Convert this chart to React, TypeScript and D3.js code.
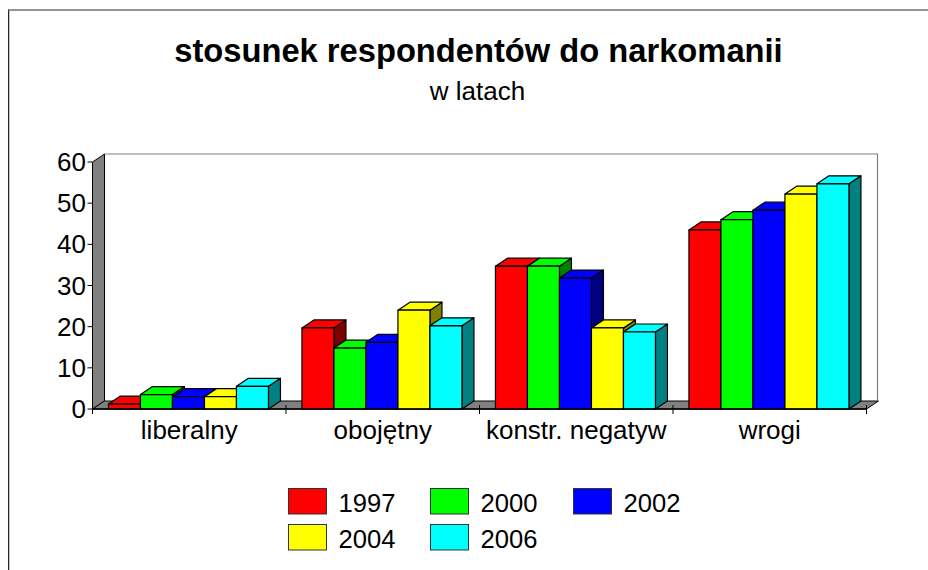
import React from 'react';
import * as d3 from 'd3';

const categories = ['liberalny', 'obojętny', 'konstr. negatyw', 'wrogi'];
const years = ['1997', '2000', '2002', '2004', '2006'];
const colors = ['#ff0000', '#00ff00', '#0000ff', '#ffff00', '#00ffff'];
const sideColors = ['#800000', '#008000', '#000080', '#808000', '#008080'];
const s1997 = [1.2, 19.7, 34.7, 43.5];
const s2000 = [3.5, 14.8, 34.7, 46];
const s2002 = [3, 16.2, 31.8, 48.3];
const s2004 = [3, 24, 19.7, 52.2];
const s2006 = [5.5, 20.2, 18.7, 54.7];
const series = [s1997, s2000, s2002, s2004, s2006];
const yTicks = [0, 10, 20, 30, 40, 50, 60];

const FONT = 'Arial, "Liberation Sans", sans-serif';
const x0 = 92.5, x1 = 866.5, dx = 12, dy = -8;
const y = d3.scaleLinear().domain([0, 60]).range([409, 162]);
const xBand = d3.scaleBand<string>().domain(categories).range([x0, x1]);
const barW = 32;
const inner = d3.scaleBand<string>().domain(years).range([0, barW * years.length]);
const pts = (a: number[][]) => a.map(p => p.join(',')).join(' ');

const legend = [
  { i: 0, x: 288.5, y: 488.5 }, { i: 1, x: 430.5, y: 488.5 }, { i: 2, x: 573.5, y: 488.5 },
  { i: 3, x: 288.5, y: 524.5 }, { i: 4, x: 430.5, y: 524.5 },
];

export default function App() {
  const y0 = y(0), yTop = y(60);
  return (
    <svg width={928} height={570} style={{ position: 'absolute', left: 0, top: 0 }}>
      <rect width={928} height={570} fill="#fff" />
      <path d="M9.5,10V570" stroke="#ccc" fill="none" />
      <path d="M8.5,9V570" stroke="#222" fill="none" />
      <path d="M8,10H928" stroke="#707070" strokeWidth={1.5} fill="none" />
      <text x={478.5} y={62} textAnchor="middle" fontFamily={FONT} fontSize={32.7} fontWeight="bold">stosunek respondentów do narkomanii</text>
      <text x={477.5} y={100} textAnchor="middle" fontFamily={FONT} fontSize={26}>w latach</text>

      <polygon points={pts([[x0, y0], [x0 + dx, y0 + dy], [x0 + dx, yTop + dy], [x0, yTop]])} fill="#808080" stroke="#000" />
      <polygon points={pts([[x0, y0], [x1, y0], [x1 + dx, y0 + dy], [x0 + dx, y0 + dy]])} fill="#808080" stroke="#000" />
      <path d={`M${x0 + dx},${yTop + dy}H${x1 + dx - 1}V${y0 + dy}`} fill="none" stroke="#808080" strokeWidth={1.2} />

      {categories.map((c, ci) => {
        const gx = xBand(c)! + (xBand.bandwidth() - barW * years.length) / 2 - 0.8;
        return (
          <g key={c}>
            {years.map((yr, si) => {
              const l = gx + inner(yr)!, r = l + barW, t = y(series[si][ci]);
              return (
                <g key={yr} stroke="#000" strokeWidth={1.2} strokeLinejoin="round">
                  <polygon points={pts([[r, y0], [r + dx, y0 + dy], [r + dx, t + dy], [r, t]])} fill={sideColors[si]} />
                  <polygon points={pts([[l, t], [l + dx, t + dy], [r + dx, t + dy], [r, t]])} fill={colors[si]} />
                  <rect x={l} y={t} width={barW} height={y0 - t} fill={colors[si]} />
                </g>
              );
            })}
          </g>
        );
      })}

      <path d={`M${x0},${y0}H${x1}`} stroke="#000" strokeWidth={1.5} />
      {[...categories.map(c => xBand(c)!), x1].map((tx, i) => (
        <path key={i} d={`M${tx},${y0 - 4}V${y0 + 5}`} stroke="#000" />
      ))}
      {yTicks.map(t => (
        <g key={t}>
          <path d={`M${x0 - 5},${y(t)}H${x0}`} stroke="#000" />
          <text x={86} y={y(t) + 9} textAnchor="end" fontFamily={FONT} fontSize={26}>{t}</text>
        </g>
      ))}
      {categories.map(c => (
        <text key={c} x={xBand(c)! + xBand.bandwidth() / 2} y={439} textAnchor="middle" fontFamily={FONT} fontSize={26}>{c}</text>
      ))}

      {legend.map(({ i, x, y: ly }) => (
        <g key={i}>
          <rect x={x} y={ly} width={38} height={25.5} fill={colors[i]} stroke="#333" strokeWidth={1} />
          <text x={x + 50} y={ly + 23.5} fontFamily={FONT} fontSize={25.6}>{years[i]}</text>
        </g>
      ))}
    </svg>
  );
}
